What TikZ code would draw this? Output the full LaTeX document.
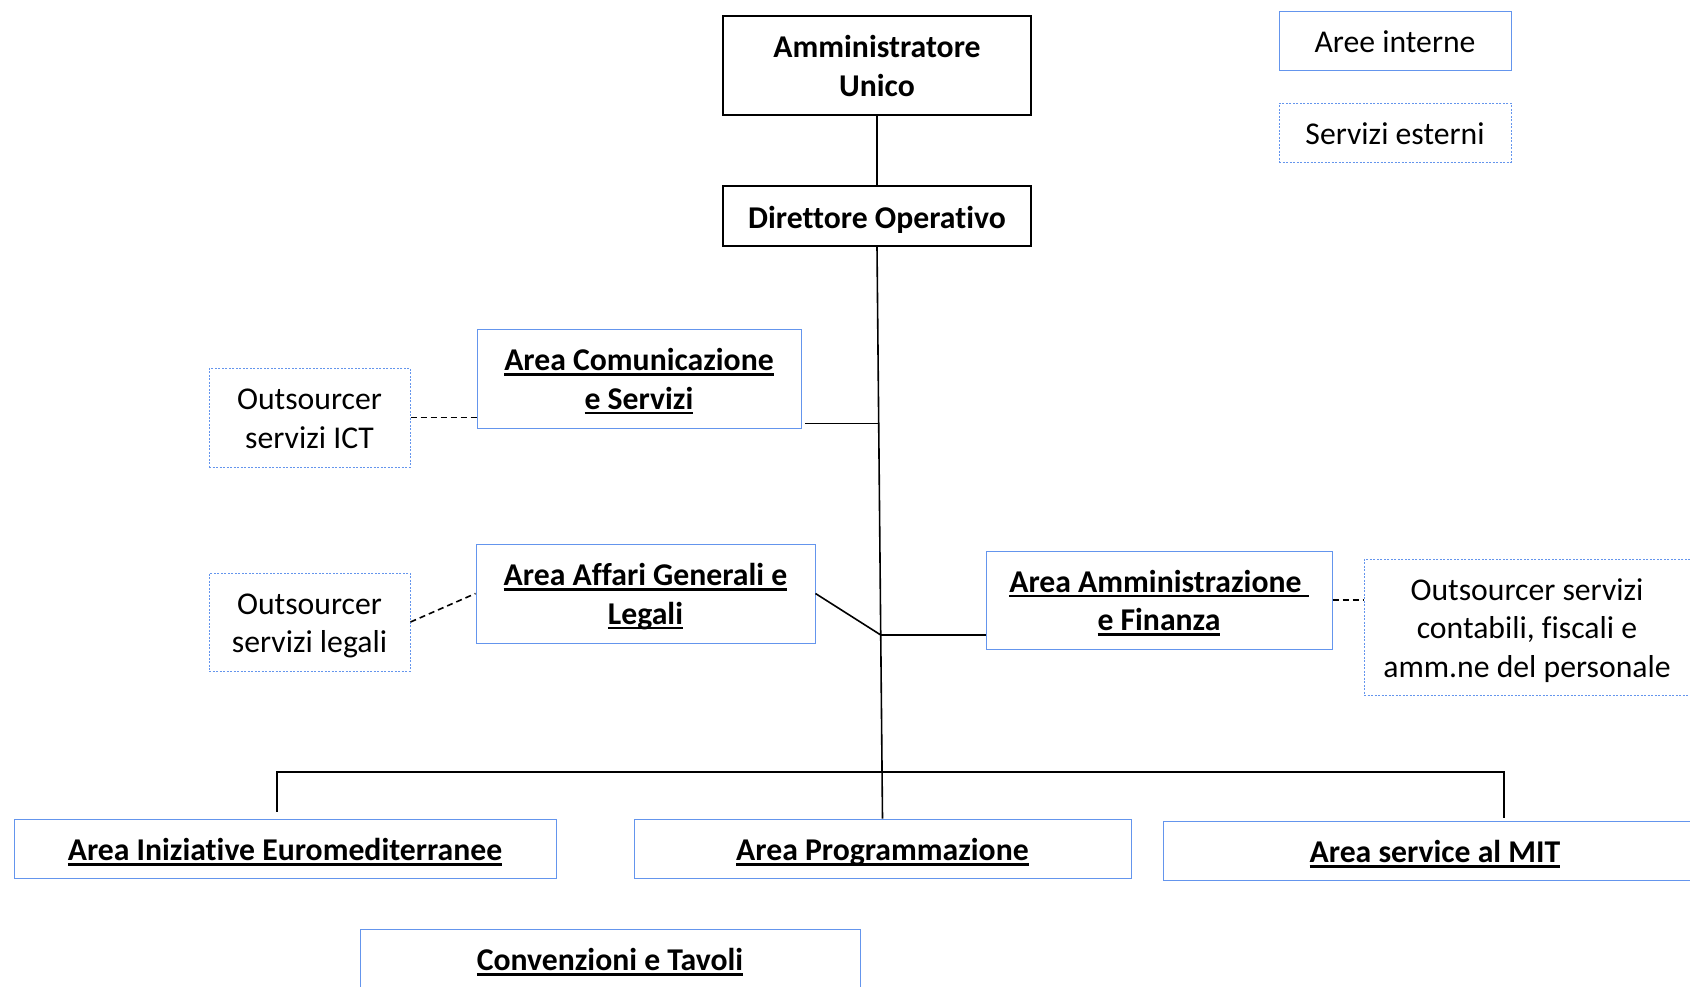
\documentclass[tikz,border=0pt]{standalone}
\usepackage{fontspec}
\setmainfont{Carlito}[Ligatures=NoCommon]
\usetikzlibrary{calc}
\definecolor{bblue}{RGB}{100,149,237}
\newcommand{\ulbf}[1]{\setbox0\hbox{#1}\rlap{\rule[-5pt]{\wd0}{2.6pt}}\box0}
\newcommand{\tstrut}{\rule{0pt}{32.5pt}}
\begin{document}
\begin{tikzpicture}[x=1pt,y=-1pt,
  every node/.style={inner sep=0pt, align=center, font=\fontsize{31.7}{38.5}\selectfont,
    execute at begin node={\rule{0pt}{34pt}}, execute at end node={\rule[-9.4pt]{0pt}{0pt}}},
  topbox/.style={draw=black, line width=1.5pt, font=\fontsize{31.7}{38.5}\selectfont\bfseries},
  areabox/.style={draw=bblue, line width=1pt, font=\fontsize{31.7}{38.5}\selectfont\bfseries},
  extbox/.style={draw=bblue, line width=1pt, dash pattern=on 2pt off 1.5pt},
  conn/.style={draw=black, line width=1.6pt},
  dconn/.style={draw=black, line width=1.6pt, dash pattern=on 6pt off 4pt}]
\useasboundingbox (0,0) rectangle (1690,986);
\clip (0,0) rectangle (1690,986);
\fill[white] (0,0) rectangle (1690,986);

\node[topbox, minimum width=308, minimum height=99] (amm) at (877,65.5) {\tstrut Amministratore\\Unico};
\node[topbox, minimum width=308, minimum height=60] (dir) at (877,216) {Direttore Operativo};

\node[areabox, minimum width=232, minimum height=59, font=\fontsize{31.7}{38.5}\selectfont] (lin) at (1395,40.5) {Aree interne};
\node[extbox, minimum width=232, minimum height=59] (lext) at (1395,132.5) {Servizi esterni};

\node[extbox, minimum width=201, minimum height=99] (ict) at (309.5,417.5) {\tstrut Outsourcer\\servizi ICT};
\node[areabox, minimum width=324, minimum height=99] (com) at (639,378.5) {\tstrut\ulbf{Area Comunicazione}\\\ulbf{e Servizi}};

\node[areabox, minimum width=339, minimum height=99] (aff) at (645.5,593.5) {\tstrut\ulbf{Area Affari Generali e}\\\ulbf{Legali}};
\node[extbox, minimum width=201, minimum height=98] (leg) at (309.5,622) {\tstrut Outsourcer\\servizi legali};

\node[areabox, minimum width=346, minimum height=98] (fin) at (1159,600) {\tstrut\ulbf{Area Amministrazione\ }\\\ulbf{e Finanza}};
\node[extbox, minimum width=326, minimum height=136] (cont) at (1527,627) {\tstrut Outsourcer servizi\\contabili, fiscali e\\amm.ne del personale};

\node[areabox, minimum width=542, minimum height=59] (ini) at (285,848.5) {\ulbf{Area Iniziative Euromediterranee}};
\node[areabox, minimum width=497, minimum height=59] (prog) at (882.5,848.5) {\ulbf{Area Programmazione}};
\node[areabox, minimum width=544, minimum height=59] (mit) at (1435,850.5) {\ulbf{Area service al MIT}};
\node[areabox, minimum width=500, minimum height=59] (conv) at (610,958.5) {\ulbf{Convenzioni e Tavoli}};

% connectors
\draw[conn] (amm.south) -- (dir.north);
\draw[conn] (dir.south) -- (prog.north);
\coordinate (j1) at ($(dir.south)!0.309!(prog.north)$);
\coordinate (j2) at ($(dir.south)!0.679!(prog.north)$);
\coordinate (bl) at (277,772);
\coordinate (br) at (1504,772);
\draw[conn] (j1) -- ([xshift=3pt]j1 -| com.east);
\draw[conn] (aff.east) -- (j2);
\draw[conn] (j2) -- (j2 -| fin.west);
\draw[conn] ([yshift=7pt]ini.north -| bl) -- (bl) -- (br) -- ([yshift=3pt]mit.north -| br);

\draw[dconn] (ict.east) -- (ict.east -| com.west);
\draw[dconn] (leg.east) -- (aff.west);
\draw[dconn] (fin.east) -- (fin.east -| cont.west);
\end{tikzpicture}
\end{document}
